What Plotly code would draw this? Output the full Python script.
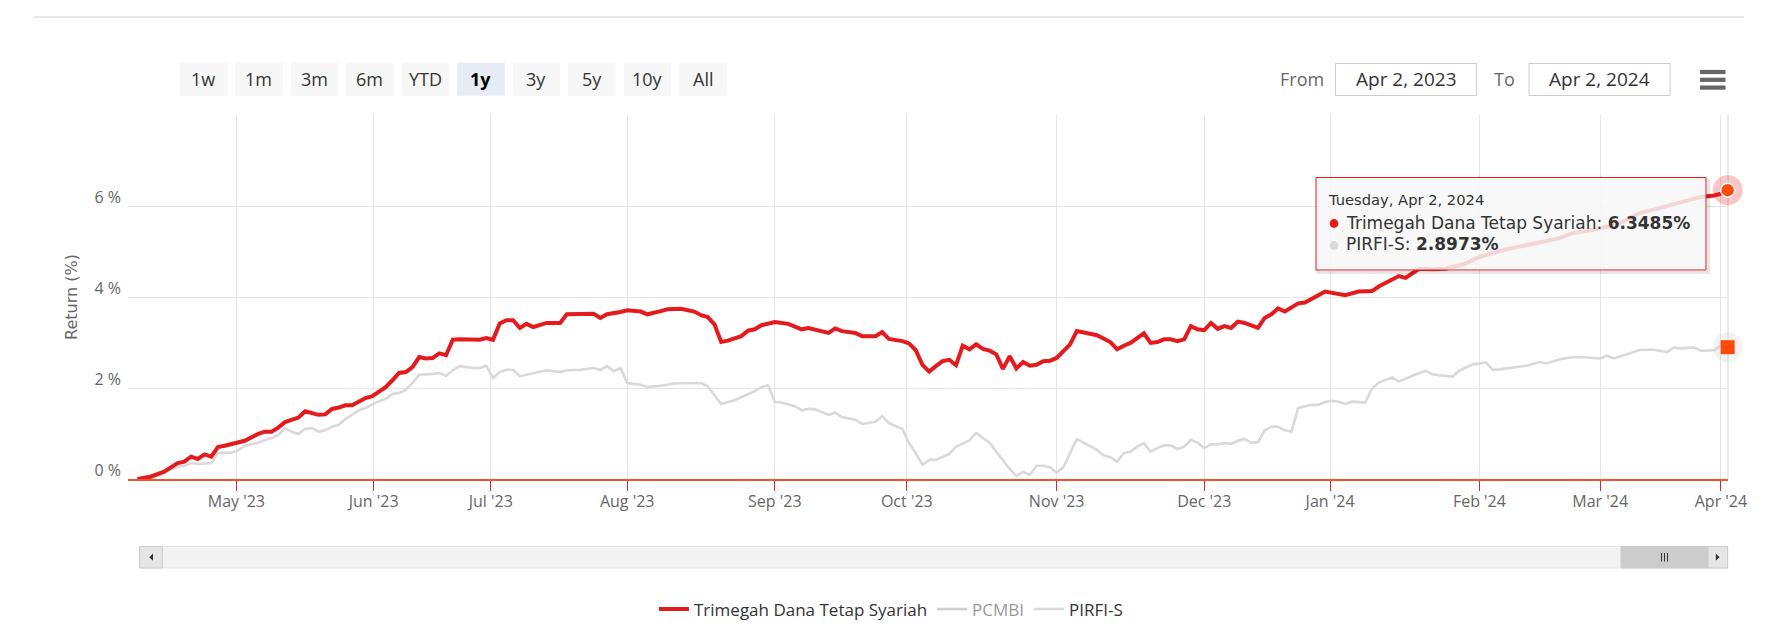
import pandas as pd
import plotly.graph_objects as go

# ---------------- data ----------------
# Exchange closures used to build the trading-day calendar (ordinal x axis)
HOLIDAYS = ["2023-04-07", "2023-04-19", "2023-04-20", "2023-04-21", "2023-04-24",
            "2023-05-01", "2023-05-18", "2023-06-01", "2023-06-02", "2023-06-28",
            "2023-06-29", "2023-06-30", "2023-07-19", "2023-08-17", "2023-09-28",
            "2023-12-25", "2023-12-26", "2024-01-01", "2024-02-08", "2024-02-09",
            "2024-02-14", "2024-03-11", "2024-03-12", "2024-03-29"]
FIRST_DAY = "2023-04-03"
LAST_DAY = "2024-04-02"

# trading-day number (0 = Apr 3, 2023) and cumulative return (%)
TRIMEGAH_DAY = [0, 2, 4, 6, 7, 8, 9, 10, 11, 12, 13,
                15, 16, 18, 19, 20, 21, 22, 24, 25, 26, 27, 28, 29, 30, 31, 32, 33, 34, 35,
                36, 37, 38, 39, 40, 41, 42, 43, 44, 45, 46, 47, 48, 50, 51, 52,
                53, 54, 55, 56, 57, 58, 59, 61, 63, 64, 66, 68, 69, 70, 72,
                73, 75, 76, 78, 79, 81, 82, 83, 84, 85, 86, 87, 88, 90, 91, 92, 93,
                95, 97, 98, 99, 100, 101, 103, 104, 105, 107, 108, 110, 111, 112, 114,
                115, 116, 117, 118, 119, 120, 121, 122, 123, 124, 125, 126, 127, 128, 129, 130,
                131, 132, 133, 134, 135, 136,
                137, 139, 140, 142, 143, 145, 146, 147, 148, 150, 151, 152, 153, 154, 155, 156,
                157, 158,
                159, 160, 161, 162, 163, 164, 165, 167, 168, 169, 170, 171, 172, 173, 174, 175,
                176, 177,
                178, 179, 180, 182, 184, 185, 187, 188, 189, 190, 191, 193, 195, 198,
                200, 204, 207, 210, 212, 214, 216,
                218, 220, 222, 224, 226, 228, 230, 232, 233, 235,
                236, 237]
TRIMEGAH_RET = [0.00, 0.05, 0.16, 0.35, 0.38, 0.49, 0.44, 0.54, 0.49, 0.70, 0.73,
                0.79, 0.84, 0.99, 1.04, 1.04, 1.13, 1.25, 1.35, 1.49, 1.45, 1.41, 1.42, 1.54, 1.57, 1.62, 1.62, 1.71, 1.78, 1.82,
                1.92, 2.02, 2.17, 2.33, 2.35, 2.46, 2.68, 2.65, 2.66, 2.76, 2.72, 3.06, 3.07, 3.07, 3.06, 3.10,
                3.06, 3.42, 3.49, 3.49, 3.32, 3.41, 3.34, 3.43, 3.43, 3.62, 3.63, 3.63, 3.54, 3.62, 3.67,
                3.71, 3.68, 3.62, 3.69, 3.73, 3.74, 3.71, 3.68, 3.60, 3.56, 3.40, 3.01, 3.04, 3.14, 3.26, 3.29, 3.38,
                3.45, 3.41, 3.36, 3.29, 3.32, 3.29, 3.21, 3.31, 3.25, 3.21, 3.14, 3.14, 3.23, 3.08, 3.03,
                2.98, 2.83, 2.51, 2.36, 2.48, 2.59, 2.62, 2.50, 2.93, 2.85, 2.96, 2.86, 2.82, 2.74, 2.42, 2.70,
                2.43, 2.57, 2.49, 2.51, 2.59, 2.60,
                2.66, 2.96, 3.25, 3.18, 3.16, 3.01, 2.85, 2.93, 2.99, 3.20, 2.99, 3.01, 3.07, 3.07, 3.03, 3.07,
                3.36, 3.29,
                3.27, 3.43, 3.30, 3.36, 3.32, 3.46, 3.43, 3.32, 3.54, 3.62, 3.75, 3.68, 3.76, 3.86, 3.88, 3.97,
                4.04, 4.12,
                4.10, 4.06, 4.04, 4.12, 4.13, 4.23, 4.39, 4.46, 4.42, 4.52, 4.62, 4.61, 4.62, 4.74,
                4.88, 5.05, 5.13, 5.23, 5.30, 5.41, 5.45,
                5.50, 5.57, 5.70, 5.85, 5.92, 6.00, 6.08, 6.16, 6.20, 6.23,
                6.27, 6.3485]

PIRFI_DAY = [0, 2, 4, 6, 7, 8, 9, 11, 12, 14,
             15, 16, 18, 20, 21, 22, 23, 24, 25, 26, 27, 28, 29, 30, 31, 33, 34, 35,
             36, 37, 38, 39, 40, 41, 42, 44, 45, 46, 47, 48, 50, 51, 52,
             53, 54, 55, 56, 57, 59, 61, 63, 64, 66, 68, 69, 70, 71, 72,
             73, 75, 76, 78, 80, 82, 84, 85, 86, 87, 89, 90, 92, 93, 94,
             95, 96, 98, 99, 100, 101, 103, 104, 105, 107, 108, 110, 111, 112, 114,
             115, 116, 117, 118, 119, 121, 122, 124, 125, 126, 127, 128, 129, 130, 131, 132,
             133, 134, 135, 136,
             137, 138, 140, 142, 143, 144, 145, 146, 147, 148, 149, 150, 151, 152, 153, 154,
             155, 156, 157, 158,
             159, 160, 161, 162, 163, 164, 165, 166, 167, 168, 169, 170, 171, 172, 173, 174,
             175, 176, 177,
             178, 179, 180, 181, 183, 184, 185, 187, 188, 190, 192, 193, 194, 196, 197, 199,
             201, 202, 203, 205, 207, 209, 210, 212, 214, 216,
             218, 219, 220, 222, 224, 226, 228, 229, 230, 232, 233, 235,
             236, 237]
PIRFI_RET = [0.00, 0.09, 0.16, 0.27, 0.29, 0.35, 0.33, 0.35, 0.57, 0.58,
             0.63, 0.73, 0.80, 0.90, 0.97, 1.12, 1.04, 0.99, 1.10, 1.12, 1.04, 1.07, 1.15, 1.19, 1.32, 1.51, 1.56, 1.63,
             1.71, 1.76, 1.87, 1.89, 1.96, 2.11, 2.29, 2.31, 2.33, 2.27, 2.39, 2.48, 2.44, 2.44, 2.49,
             2.22, 2.35, 2.40, 2.40, 2.26, 2.33, 2.39, 2.35, 2.39, 2.40, 2.44, 2.40, 2.48, 2.37, 2.44,
             2.11, 2.07, 2.02, 2.05, 2.10, 2.10, 2.11, 2.04, 1.85, 1.65, 1.73, 1.80, 1.93, 2.02, 2.06,
             1.69, 1.68, 1.60, 1.51, 1.54, 1.53, 1.41, 1.46, 1.36, 1.30, 1.21, 1.26, 1.38, 1.23, 1.10,
             0.79, 0.57, 0.31, 0.42, 0.42, 0.55, 0.71, 0.85, 1.01, 0.90, 0.80, 0.60, 0.40, 0.22, 0.07, 0.16,
             0.09, 0.29, 0.29, 0.26,
             0.14, 0.26, 0.88, 0.73, 0.64, 0.52, 0.48, 0.38, 0.57, 0.60, 0.71, 0.79, 0.60, 0.68, 0.74, 0.74,
             0.66, 0.71, 0.86, 0.80,
             0.68, 0.76, 0.76, 0.79, 0.77, 0.84, 0.88, 0.80, 0.81, 1.07, 1.15, 1.15, 1.07, 1.04, 1.56, 1.60,
             1.63, 1.63, 1.69,
             1.72, 1.70, 1.65, 1.70, 1.68, 1.99, 2.12, 2.23, 2.14, 2.27, 2.38, 2.30, 2.28, 2.25, 2.38, 2.52,
             2.56, 2.40, 2.41, 2.45, 2.49, 2.57, 2.54, 2.63, 2.68, 2.67,
             2.65, 2.71, 2.65, 2.74, 2.84, 2.84, 2.79, 2.89, 2.87, 2.89, 2.82, 2.83,
             2.93, 2.8973]

# PCMBI is switched off in the chart (legend entry only)
PCMBI_DAY = [0]
PCMBI_RET = [None]

Y_TICKS = [0, 2, 4, 6, 8]
Y_TICK_TEXT = ["0 %", "2 %", "4 %", "6 %", ""]
RANGE_BUTTONS = ["1w", "1m", "3m", "6m", "YTD", "1y", "3y", "5y", "10y", "All"]
SELECTED_BUTTON = "1y"
FROM_TEXT = "Apr 2, 2023"
TO_TEXT = "Apr 2, 2024"

assert len(TRIMEGAH_DAY) == len(TRIMEGAH_RET), (len(TRIMEGAH_DAY), len(TRIMEGAH_RET))
assert len(PIRFI_DAY) == len(PIRFI_RET), (len(PIRFI_DAY), len(PIRFI_RET))

# ---------------- calendar / ticks ----------------
days = pd.bdate_range(FIRST_DAY, LAST_DAY, freq="C", holidays=HOLIDAYS)
month_starts = pd.date_range("2023-05-01", "2024-04-01", freq="MS")
tickvals, ticktext = [], []
for m in month_starts:
    pos = int(days.searchsorted(m))
    if days[pos] == m:
        v = float(pos)
    else:
        prev, nxt = days[pos - 1], days[pos]
        v = pos - 1 + (m - prev) / (nxt - prev)
    tickvals.append(v)
    ticktext.append(m.strftime("%b '%y"))

# ---------------- geometry helpers (page pixel -> paper) ----------------
BODY = 8                      # default page margin around the plot div
W_FIG, H_FIG = 1780 - BODY, 633 - BODY
PL, PT, PW, PH = 128, 115, 1600, 364   # plot area in page pixels


def X(px):
    return (px - PL) / PW


def Y(py):
    return (PT + PH - py) / PH


RED = "#e41a1c"
GRAY = "#d9d9d9"
HOVER = "#ff4a0a"

fig = go.Figure()
fig.add_trace(go.Scatter(x=PIRFI_DAY, y=PIRFI_RET, name="PIRFI-S", mode="lines",
                         line=dict(color=GRAY, width=2.6), legendrank=3, hoverinfo="skip"))
fig.add_trace(go.Scatter(x=PCMBI_DAY, y=PCMBI_RET, name="PCMBI", mode="lines",
                         line=dict(color="#a0a0a0", width=2.6), legendrank=2,
                         visible="legendonly", hoverinfo="skip"))
fig.add_trace(go.Scatter(x=TRIMEGAH_DAY, y=TRIMEGAH_RET, name="Trimegah Dana Tetap Syariah",
                         mode="lines", line=dict(color=RED, width=4), legendrank=1,
                         hoverinfo="skip"))

# hover markers on the last point
fig.add_trace(go.Scatter(x=[PIRFI_DAY[-1]], y=[PIRFI_RET[-1]], mode="markers",
                         marker=dict(size=30, color="rgba(200,200,200,0.22)"),
                         showlegend=False, cliponaxis=False, hoverinfo="skip"))
fig.add_trace(go.Scatter(x=[PIRFI_DAY[-1]], y=[PIRFI_RET[-1]], mode="markers",
                         marker=dict(symbol="square", size=14, color=HOVER, line=dict(width=0)),
                         showlegend=False, cliponaxis=False, hoverinfo="skip"))
fig.add_trace(go.Scatter(x=[TRIMEGAH_DAY[-1]], y=[TRIMEGAH_RET[-1]], mode="markers",
                         marker=dict(size=30, color="rgba(228,26,28,0.25)"),
                         showlegend=False, cliponaxis=False, hoverinfo="skip"))
fig.add_trace(go.Scatter(x=[TRIMEGAH_DAY[-1]], y=[TRIMEGAH_RET[-1]], mode="markers",
                         marker=dict(size=14, color=HOVER, line=dict(color="white", width=1.5)),
                         showlegend=False, cliponaxis=False, hoverinfo="skip"))

shapes = []
annotations = []


def rect(x0, y0, x1, y1, fill, line=None, lw=1, layer="above"):
    shapes.append(dict(type="rect", xref="paper", yref="paper",
                       x0=X(x0), x1=X(x1), y0=Y(y1), y1=Y(y0), fillcolor=fill,
                       line=dict(color=line or fill, width=lw if line else 0), layer=layer))


def text(px, py, s, size=16, color="#333333", family="Open Sans", xanchor="center"):
    annotations.append(dict(xref="paper", yref="paper", x=X(px), y=Y(py), text=s,
                            showarrow=False, xanchor=xanchor, yanchor="middle",
                            font=dict(family=family, size=size, color=color)))


# page rule at the top
shapes.append(dict(type="line", xref="paper", yref="paper", x0=X(34), x1=X(1744),
                   y0=Y(17), y1=Y(17), line=dict(color="#dedede", width=1.5)))

# right plot border
shapes.append(dict(type="line", xref="paper", yref="paper", x0=1, x1=1, y0=0, y1=1,
                   line=dict(color="#d6d6d6", width=1), layer="below"))

# range selector buttons
for i, lab in enumerate(RANGE_BUTTONS):
    x0 = 179.7 + i * 55.5
    sel = lab == SELECTED_BUTTON
    rect(x0, 62.7, x0 + 47.5, 95.7, "#e6ebf5" if sel else "#f7f7f7")
    text(x0 + 23.75, 79.5, f"<b>{lab}</b>" if sel else lab, size=18,
         color="#000000" if sel else "#333333")

# From / To inputs
text(1301.5, 79.5, "From", size=18, color="#666666")
rect(1335.5, 63.5, 1476.5, 95.5, "#ffffff", line="#cccccc", lw=1)
text(1406, 79.5, FROM_TEXT, size=19, color="#333333")
text(1504.5, 79.5, "To", size=18, color="#666666")
rect(1529, 63.5, 1670, 95.5, "#ffffff", line="#cccccc", lw=1)
text(1599.5, 79.5, TO_TEXT, size=19, color="#333333")

# export (hamburger) menu
for yc in (72.0, 79.8, 87.6):
    rect(1700, yc - 2.1, 1725.5, yc + 2.1, "#666666")

# scrollbar
rect(139.6, 546.5, 1727.6, 568, "#f2f2f2", line="#e8e8e8", lw=1)
rect(139.6, 546.5, 162.3, 568, "#e6e6e6", line="#cccccc", lw=1)
rect(1621, 546.5, 1708, 568, "#cccccc", line="#cccccc", lw=1)
rect(1708, 546.5, 1727.6, 568, "#e6e6e6", line="#cccccc", lw=1)
shapes.append(dict(type="path", xref="paper", yref="paper",
                   path=f"M {X(149.3)} {Y(557.2)} L {X(153)} {Y(553.6)} L {X(153)} {Y(560.8)} Z",
                   fillcolor="#333333", line=dict(width=0)))
shapes.append(dict(type="path", xref="paper", yref="paper",
                   path=f"M {X(1719.5)} {Y(557.2)} L {X(1715.8)} {Y(553.6)} L {X(1715.8)} {Y(560.8)} Z",
                   fillcolor="#333333", line=dict(width=0)))
for gx in (1661.5, 1664.5, 1667.5):
    shapes.append(dict(type="line", xref="paper", yref="paper", x0=X(gx), x1=X(gx),
                       y0=Y(553), y1=Y(561.5), line=dict(color="#333333", width=1)))

# tooltip
shapes.append(dict(type="rect", xref="paper", yref="paper", x0=X(1318), x1=X(1708.5),
                   y0=Y(272.5), y1=Y(180), fillcolor="rgba(0,0,0,0)",
                   line=dict(color="rgba(0,0,0,0.10)", width=3)))
rect(1316, 177.5, 1706, 270, "rgba(247,247,247,0.85)", line=RED, lw=1)
for (cy, col) in ((223.5, RED), (245.5, GRAY)):
    shapes.append(dict(type="circle", xref="paper", yref="paper",
                       x0=X(1334 - 4.4), x1=X(1334 + 4.4), y0=Y(cy + 4.4), y1=Y(cy - 4.4),
                       fillcolor=col, line=dict(width=0)))
last = days[-1]
header = f"{last.strftime('%A, %b')} {last.day}, {last.year}"
text(1326, 199, header, size=14.7, color="#333333", family="DejaVu Sans", xanchor="left")
text(1344, 222.5, f"Trimegah Dana Tetap Syariah: <b>{TRIMEGAH_RET[-1]:.4f}%</b>",
     size=17, color="#333333", family="DejaVu Sans", xanchor="left")
text(1344, 244.5, f"PIRFI-S: <b>{PIRFI_RET[-1]:.4f}%</b>",
     size=17, color="#333333", family="DejaVu Sans", xanchor="left")

fig.update_layout(
    width=W_FIG, height=H_FIG,
    margin=dict(l=PL - BODY, r=W_FIG - (PL - BODY) - PW, t=PT - BODY,
                b=H_FIG - (PT - BODY) - PH, pad=0, autoexpand=False),
    paper_bgcolor="white", plot_bgcolor="white",
    font=dict(family="Open Sans", size=16, color="#666666"),
    hovermode=False,
    showlegend=True,
    legend=dict(orientation="h", x=X(891), y=Y(609.5), xanchor="center", yanchor="middle",
                font=dict(family="Open Sans", size=17, color="#333333"),
                bgcolor="rgba(0,0,0,0)", itemclick=False, itemdoubleclick=False,
                traceorder="normal"),
    shapes=shapes,
    annotations=annotations,
    xaxis=dict(range=[-1.4, len(days) - 1 + 0.05], tickmode="array", tickvals=tickvals,
               ticktext=ticktext, showgrid=True, gridcolor="#e6e6e6", gridwidth=1,
               zeroline=False, showline=True, linecolor="#f0562a", linewidth=2,
               ticks="outside", ticklen=10, tickwidth=1, tickcolor="#d92a2a",
               ticklabelstandoff=-3,
               tickfont=dict(family="Open Sans", size=16, color="#666666"), fixedrange=True),
    yaxis=dict(range=[0, 8], tickmode="array", tickvals=Y_TICKS, ticktext=Y_TICK_TEXT,
               showgrid=True, gridcolor="#e6e6e6", gridwidth=1, zeroline=False,
               showline=False, ticks="", ticklabelshift=-9, ticklabelstandoff=6,
               tickfont=dict(family="Open Sans", size=16, color="#666666"),
               title=dict(text="Return (%)", standoff=12,
                          font=dict(family="DejaVu Sans", size=16, color="#666666")),
               fixedrange=True),
)

fig.write_html("out.html", config={"displayModeBar": False})
